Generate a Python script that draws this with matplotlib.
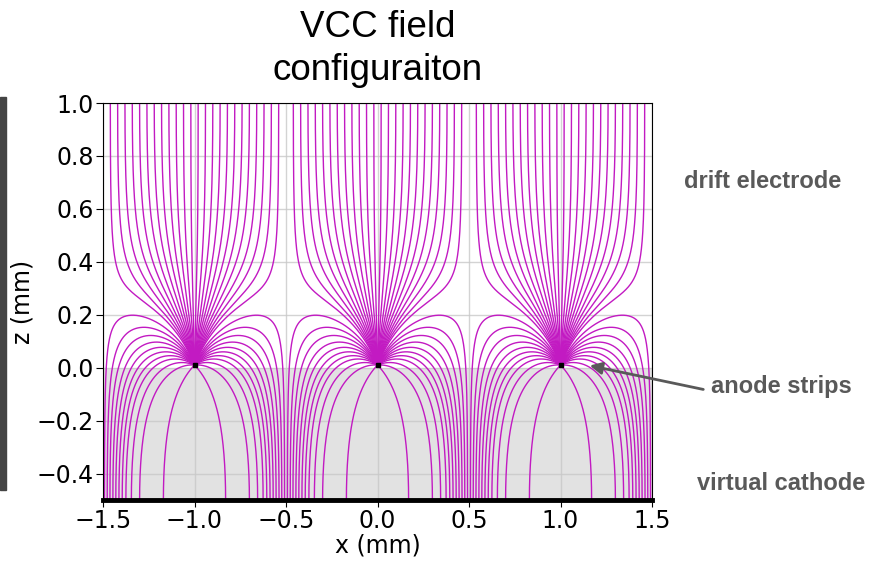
import numpy as np
import matplotlib
matplotlib.use("Agg")
import matplotlib.pyplot as plt
from matplotlib.patches import Rectangle

# ---------------- data ----------------
anode_x = [-1.0, 0.0, 1.0]          # anode strip positions (mm)
anode_z = 0.01                       # anode height (mm)
drift_z = 1.0                        # drift electrode (mm)
cathode_z = -0.5                     # virtual cathode (mm)
pitch = 1.0                          # strip pitch (mm)
frac_up = 0.18                       # fraction of anode flux reaching drift electrode
# x-offsets from the anode where field lines meet the electrodes
top_offsets = [0.02, 0.06, 0.10, 0.14, 0.18, 0.22, 0.26, 0.30, 0.34, 0.38, 0.42, 0.46]
bottom_offsets = [0.17, 0.30, 0.345, 0.375, 0.395, 0.413, 0.43, 0.446, 0.462, 0.477, 0.492]
xticks = [-1.5, -1.0, -0.5, 0.0, 0.5, 1.0, 1.5]
yticks = [-0.4, -0.2, 0.0, 0.2, 0.4, 0.6, 0.8, 1.0]
title_text = "VCC field\nconfiguraiton"
label_texts = ["drift electrode", "anode strips", "virtual cathode"]

# ---------------- field of periodic anode strips between two plates ----------------
L = drift_z - cathode_z
n_img = 4
U = frac_up - 0.5


def efield(x, z):
    w = x + 1j * z
    F = 1.0 / np.tan(np.pi * (w - 1j * anode_z) / pitch)
    for n in range(-n_img, n_img + 1):
        for zr, s in ((anode_z + 2 * L * n, 1.0), (2 * cathode_z - anode_z + 2 * L * n, -1.0)):
            if n == 0 and s > 0:
                continue
            asym = 1j if zr > anode_z else -1j
            F = F + s * (1.0 / np.tan(np.pi * (w - 1j * zr) / pitch) - asym)
    return 0.5 * F.real, -0.5 * F.imag + U


def trace(x0, z0, h=0.002, nmax=5000, rstop=0.004):
    xs = [np.array(x0, float)]
    zs = [np.array(z0, float)]
    x = np.array(x0, float)
    z = np.array(z0, float)
    ax_ = np.array(anode_x)
    active = np.ones_like(x, bool)

    def d(x, z):
        ex, ez = efield(x, z)
        m = np.hypot(ex, ez) + 1e-12
        return -ex / m, -ez / m

    for _ in range(nmax):
        k1x, k1z = d(x, z)
        k2x, k2z = d(x + 0.5 * h * k1x, z + 0.5 * h * k1z)
        k3x, k3z = d(x + 0.5 * h * k2x, z + 0.5 * h * k2z)
        k4x, k4z = d(x + h * k3x, z + h * k3z)
        nx = x + h / 6 * (k1x + 2 * k2x + 2 * k3x + k4x)
        nz = z + h / 6 * (k1z + 2 * k2z + 2 * k3z + k4z)
        x = np.where(active, nx, x)
        z = np.where(active, nz, z)
        dist = np.min(np.hypot(x[:, None] - ax_[None, :], z[:, None] - anode_z), axis=1)
        active &= dist > rstop
        xs.append(x.copy())
        zs.append(z.copy())
        if not active.any():
            break
    return np.array(xs), np.array(zs)


starts_x, starts_z = [], []
for xa in anode_x:
    for off in top_offsets:
        for sgn in (-1, 1):
            starts_x.append(xa + sgn * off)
            starts_z.append(drift_z)
    for off in bottom_offsets:
        for sgn in (-1, 1):
            starts_x.append(xa + sgn * off)
            starts_z.append(cathode_z)

XS, ZS = trace(starts_x, starts_z)

# ---------------- figure ----------------
W, H = 875, 561
fig = plt.figure(figsize=(W / 100, H / 100), dpi=100)
ax = fig.add_axes([103 / W, 1 - 500 / H, (652 - 103) / W, (500 - 103) / H])

ax.axhspan(cathode_z, 0.0, color="#e2e2e2", zorder=1, lw=0)
anx = np.array(anode_x)
for i in range(XS.shape[1]):
    xi, zi = XS[:, i], ZS[:, i]
    dist = np.min(np.hypot(xi[:, None] - anx[None, :], zi[:, None] - anode_z), axis=1)
    last = int(np.argmin(dist))
    xi, zi = xi[: last + 1], zi[: last + 1]
    xa = anode_x[int(np.argmin(np.abs(anx - xi[-1])))]
    xi = np.append(xi, xa)
    zi = np.append(zi, anode_z)
    ax.plot(xi, zi, color="#c21ac2", lw=1.0, zorder=2)

ax.plot(anode_x, [anode_z] * len(anode_x), "s", color="k", ms=3.5, zorder=5)
ax.axhline(cathode_z, color="k", lw=3.5, zorder=6, clip_on=False)

ax.set_xlim(-1.5, 1.5)
ax.set_ylim(cathode_z, drift_z)
ax.set_xticks(xticks)
ax.set_yticks(yticks)
ax.grid(True, color="#c8c8c8", lw=1.0, alpha=0.8)
ax.tick_params(labelsize=17, length=5, pad=1.5)
ax.set_xlabel("x (mm)", fontsize=17, labelpad=0)
ax.set_ylabel("z (mm)", fontsize=17, labelpad=2)

fig.text(377.5 / W, 1 - 88 / H, title_text, ha="center", va="bottom",
         fontsize=26.5, family="Liberation Sans", linespacing=1.3)

gray = "#595959"
fig.text(684 / W, 1 - 181 / H, label_texts[0], ha="left", va="center",
         fontsize=17, fontweight="bold", color=gray, family="Liberation Sans")
fig.text(711 / W, 1 - 387 / H, label_texts[1], ha="left", va="center",
         fontsize=17, fontweight="bold", color=gray, family="Liberation Sans")
fig.text(697 / W, 1 - 483 / H, label_texts[2], ha="left", va="center",
         fontsize=17, fontweight="bold", color=gray, family="Liberation Sans")
ax.annotate("", xy=(587, H - 365), xycoords="figure pixels",
            xytext=(706, H - 390), textcoords="figure pixels",
            arrowprops=dict(arrowstyle="-|>", color=gray, lw=2, mutation_scale=18))

fig.patches.append(Rectangle((0, 1 - 490 / H), 6 / W, (490 - 97) / H,
                             transform=fig.transFigure, color="#444444", zorder=0))

fig.savefig("out.png", dpi=100)
